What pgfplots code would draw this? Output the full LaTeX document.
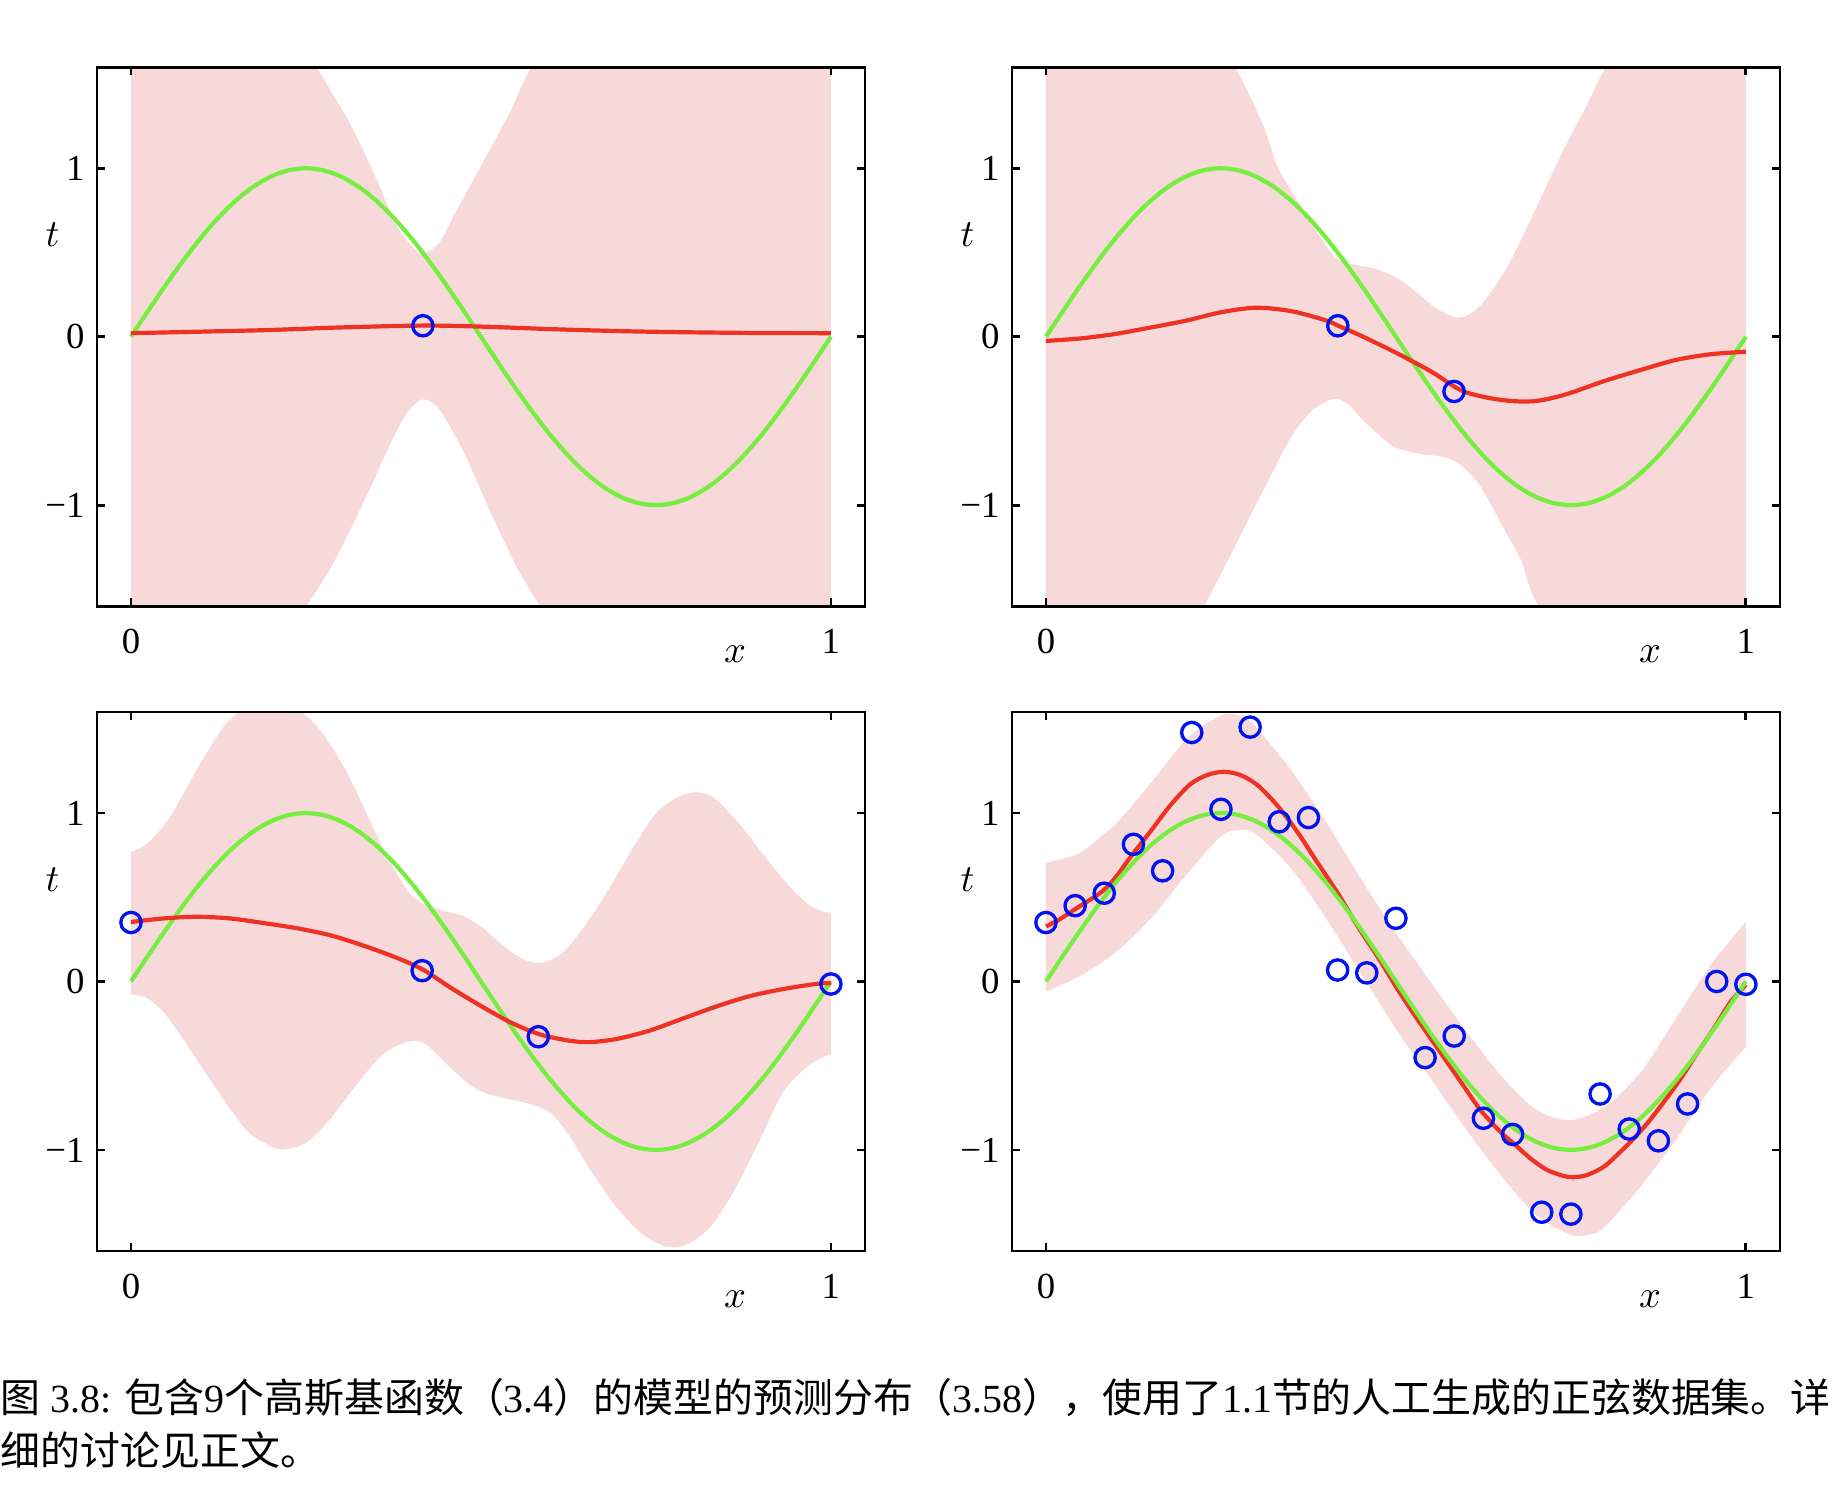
\documentclass[border=0pt]{standalone}
\usepackage{fontspec}
\setmainfont{Liberation Serif}
\newfontfamily\cjk{Noto Sans CJK SC}
\usepackage{pgfplots}
\usepackage{pgfplotstable}
\pgfplotsset{compat=1.18}
\usepgfplotslibrary{fillbetween}
\definecolor{bandpink}{RGB}{247,217,218}
\definecolor{myred}{RGB}{238,50,36}
\definecolor{mygreen}{RGB}{117,238,64}
\definecolor{myblue}{RGB}{0,20,240}

\pgfplotstableread{
x y
0 0
0.025 0.1564
0.05 0.3090
0.075 0.4540
0.1 0.5878
0.125 0.7071
0.15 0.8090
0.175 0.8910
0.2 0.9511
0.225 0.9877
0.25 1
0.275 0.9877
0.3 0.9511
0.325 0.8910
0.35 0.8090
0.375 0.7071
0.4 0.5878
0.425 0.4540
0.45 0.3090
0.475 0.1564
0.5 0
0.525 -0.1564
0.55 -0.3090
0.575 -0.4540
0.6 -0.5878
0.625 -0.7071
0.65 -0.8090
0.675 -0.8910
0.7 -0.9511
0.725 -0.9877
0.75 -1
0.775 -0.9877
0.8 -0.9511
0.825 -0.8910
0.85 -0.8090
0.875 -0.7071
0.9 -0.5878
0.925 -0.4540
0.95 -0.3090
0.975 -0.1564
1 0
}\truth

\pgfplotstableread{
x y
0 0.35
0.0417 0.45
0.0833 0.524
0.125 0.814
0.1667 0.657
0.2083 1.478
0.25 1.022
0.2917 1.51
0.3333 0.948
0.375 0.973
0.4167 0.068
0.4583 0.051
0.5 0.375
0.5417 -0.452
0.5833 -0.324
0.625 -0.812
0.6667 -0.908
0.7083 -1.37
0.75 -1.381
0.7917 -0.668
0.8333 -0.876
0.875 -0.946
0.9167 -0.727
0.9583 0.0
1 -0.017
}\pointsfour

\pgfplotsset{
  panel/.style={
    scale only axis, width=219.4pt, height=154pt,
    xmin=-0.0486, xmax=1.0486, ymin=-1.6, ymax=1.6,
    xtick={0,1}, xticklabels={0,1},
    ytick={-1,0,1}, yticklabels={−1,0,1},
    tick align=inside, major tick length=2.3pt,
    axis on top,
    axis line style={line width=0.8pt},
    tick style={black, line width=0.8pt},
    tick label style={font=\fontsize{10.5}{12}\selectfont},
    xticklabel style={yshift=-3pt},
    xlabel={$x$}, ylabel={$t$},
    every axis x label/.style={at={(axis description cs:0.831,0)}, anchor=center, yshift=-13.7pt, font=\fontsize{10.5}{12}\selectfont},
    every axis y label/.style={at={(axis description cs:0,0.689)}, anchor=center, xshift=-12.7pt, font=\fontsize{10.5}{12}\selectfont},
    anchor=south west,
  },
  env/.style={draw=none, smooth, forget plot},
  truthline/.style={mygreen, line width=1.2pt, smooth},
  meanline/.style={myred, line width=1.2pt, smooth},
  obs/.style={only marks, mark=o, mark size=2.9pt, mark options={myblue, line width=0.95pt}},
}

\begin{document}
\begin{tikzpicture}
\path (0,0) rectangle (525.1pt,430.3pt);

% ---------- panel 1 ----------
\begin{axis}[panel, at={(27.7pt,257.1pt)}]
\addplot[env, name path=U] coordinates {(0,3.0) (0.1,2.6) (0.2,2.05) (0.265,1.6) (0.313,1.264) (0.351,0.933) (0.379,0.664) (0.408,0.508) (0.422,0.502) (0.441,0.56) (0.465,0.747) (0.503,1.037) (0.541,1.327) (0.570,1.586) (0.65,2.15) (0.8,2.8) (1,3.2)};
\addplot[env, name path=L] coordinates {(0,-2.9) (0.1,-2.5) (0.2,-1.95) (0.251,-1.6) (0.289,-1.345) (0.336,-0.951) (0.370,-0.641) (0.394,-0.454) (0.417,-0.372) (0.441,-0.434) (0.475,-0.682) (0.513,-1.035) (0.551,-1.366) (0.584,-1.6) (0.65,-2.05) (0.8,-2.7) (1,-3.1)};
\addplot[bandpink, draw=none] fill between[of=U and L];
\addplot[truthline] table {\truth};
\addplot[meanline] coordinates {(0,0.021) (0.1,0.03) (0.2,0.04) (0.3,0.055) (0.417,0.066) (0.5,0.06) (0.6,0.045) (0.7,0.033) (0.8,0.026) (0.9,0.022) (1,0.021)};
\addplot[obs] coordinates {(0.417,0.065)};
\end{axis}

% ---------- panel 2 ----------
\begin{axis}[panel, at={(289.1pt,257.1pt)}]
\addplot[env, name path=U] coordinates {(0,3.0) (0.1,2.6) (0.2,2.05) (0.27,1.6) (0.31,1.258) (0.332,1.0) (0.365,0.77) (0.394,0.58) (0.42,0.452) (0.474,0.399) (0.511,0.324) (0.555,0.176) (0.588,0.112) (0.613,0.155) (0.635,0.26) (0.664,0.452) (0.701,0.77) (0.737,1.088) (0.774,1.385) (0.80,1.6) (0.9,2.3) (1,2.8)};
\addplot[env, name path=L] coordinates {(0,-3.0) (0.1,-2.5) (0.18,-1.95) (0.226,-1.6) (0.27,-1.245) (0.31,-0.916) (0.35,-0.598) (0.38,-0.439) (0.409,-0.371) (0.43,-0.397) (0.46,-0.524) (0.496,-0.651) (0.533,-0.694) (0.569,-0.715) (0.591,-0.757) (0.62,-0.884) (0.657,-1.16) (0.679,-1.33) (0.704,-1.6) (0.8,-2.2) (0.9,-2.6) (1,-2.9)};
\addplot[bandpink, draw=none] fill between[of=U and L];
\addplot[truthline] table {\truth};
\addplot[meanline] coordinates {(0,-0.025) (0.05,-0.01) (0.1,0.017) (0.15,0.055) (0.2,0.095) (0.25,0.145) (0.3,0.172) (0.35,0.152) (0.4,0.097) (0.417,0.066) (0.45,0.006) (0.5,-0.095) (0.55,-0.206) (0.583,-0.295) (0.6,-0.33) (0.625,-0.357) (0.65,-0.375) (0.675,-0.384) (0.7,-0.382) (0.725,-0.362) (0.75,-0.333) (0.8,-0.26) (0.85,-0.197) (0.9,-0.138) (0.95,-0.104) (1,-0.089)};
\addplot[obs] coordinates {(0.417,0.065) (0.583,-0.325)};
\end{axis}

% ---------- panel 3 ----------
\begin{axis}[panel, at={(27.7pt,72.9pt)}]
\addplot[env, name path=U] coordinates {(0,0.771) (0.013,0.791) (0.032,0.853) (0.056,0.977) (0.084,1.184) (0.113,1.39) (0.142,1.556) (0.2,1.72) (0.256,1.556) (0.284,1.411) (0.313,1.205) (0.341,0.957) (0.365,0.75) (0.394,0.543) (0.418,0.461) (0.446,0.419) (0.475,0.388) (0.503,0.316) (0.532,0.213) (0.561,0.13) (0.589,0.112) (0.617,0.171) (0.646,0.316) (0.679,0.523) (0.717,0.791) (0.75,0.998) (0.784,1.101) (0.812,1.122) (0.836,1.08) (0.869,0.936) (0.908,0.729) (0.941,0.564) (0.97,0.45) (0.989,0.415) (1,0.409)};
\addplot[env, name path=L] coordinates {(0,-0.076) (0.022,-0.097) (0.046,-0.18) (0.075,-0.345) (0.108,-0.552) (0.142,-0.758) (0.17,-0.903) (0.204,-0.986) (0.222,-0.996) (0.251,-0.955) (0.284,-0.82) (0.322,-0.614) (0.361,-0.428) (0.399,-0.355) (0.422,-0.376) (0.451,-0.49) (0.484,-0.614) (0.508,-0.665) (0.537,-0.696) (0.57,-0.727) (0.599,-0.779) (0.624,-0.903) (0.655,-1.11) (0.693,-1.337) (0.731,-1.502) (0.765,-1.574) (0.793,-1.564) (0.827,-1.461) (0.86,-1.254) (0.898,-0.944) (0.932,-0.655) (0.965,-0.51) (0.989,-0.448) (1,-0.438)};
\addplot[bandpink, draw=none] fill between[of=U and L];
\addplot[truthline] table {\truth};
\addplot[meanline] coordinates {(0,0.353) (0.046,0.374) (0.094,0.384) (0.142,0.374) (0.189,0.347) (0.237,0.316) (0.284,0.275) (0.332,0.213) (0.38,0.14) (0.418,0.068) (0.456,-0.035) (0.499,-0.143) (0.542,-0.242) (0.584,-0.314) (0.627,-0.352) (0.656,-0.36) (0.693,-0.342) (0.74,-0.293) (0.788,-0.221) (0.836,-0.149) (0.884,-0.087) (0.932,-0.045) (0.98,-0.014) (1,-0.01)};
\addplot[obs] coordinates {(0,0.35) (0.416,0.064) (0.582,-0.328) (1,-0.015)};
\end{axis}

% ---------- panel 4 ----------
\begin{axis}[panel, at={(289.1pt,72.9pt)}]
\addplot[env, name path=U] coordinates {(0,0.704) (0.03,0.736) (0.05,0.768) (0.1,0.937) (0.15,1.18) (0.2,1.435) (0.25,1.58) (0.28,1.574) (0.3,1.51) (0.35,1.256) (0.4,0.947) (0.45,0.609) (0.5,0.29) (0.55,-0.006) (0.6,-0.293) (0.65,-0.558) (0.7,-0.76) (0.75,-0.823) (0.8,-0.738) (0.85,-0.537) (0.9,-0.22) (0.95,0.1) (1,0.354)};
\addplot[env, name path=L] coordinates {(0,-0.06) (0.05,0.036) (0.1,0.174) (0.15,0.375) (0.2,0.63) (0.25,0.863) (0.28,0.9) (0.3,0.874) (0.35,0.672) (0.4,0.375) (0.45,0.047) (0.5,-0.282) (0.55,-0.579) (0.6,-0.876) (0.65,-1.152) (0.7,-1.385) (0.75,-1.505) (0.78,-1.50) (0.8,-1.45) (0.85,-1.215) (0.9,-0.94) (0.95,-0.632) (1,-0.388)};
\addplot[bandpink, draw=none] fill between[of=U and L];
\addplot[meanline] coordinates {(0,0.326) (0.02,0.37) (0.042,0.43) (0.063,0.485) (0.082,0.54) (0.1,0.62) (0.121,0.74) (0.149,0.889) (0.178,1.047) (0.206,1.17) (0.23,1.225) (0.254,1.245) (0.278,1.225) (0.302,1.166) (0.33,1.047) (0.359,0.889) (0.387,0.711) (0.416,0.53) (0.445,0.33) (0.475,0.14) (0.5,-0.03) (0.525,-0.19) (0.55,-0.34) (0.575,-0.49) (0.6,-0.64) (0.621,-0.765) (0.649,-0.892) (0.668,-0.961) (0.692,-1.05) (0.716,-1.119) (0.74,-1.155) (0.754,-1.162) (0.773,-1.149) (0.797,-1.1) (0.821,-1.01) (0.84,-0.931) (0.859,-0.843) (0.883,-0.714) (0.907,-0.576) (0.93,-0.428) (0.954,-0.28) (0.978,-0.122) (1,-0.02)};
\addplot[truthline] table {\truth};
\addplot[obs] table {\pointsfour};
\end{axis}

% ---------- caption ----------
\node[anchor=west, inner sep=0pt, font=\fontsize{11.4}{14}\selectfont] at (0pt,30.9pt)
  {{\cjk 图} 3.8: {\cjk 包含}9{\cjk 个高斯基函数（}3.4{\cjk ）的模型的预测分布（}3.58{\cjk ），使用了}1.1{\cjk 节的人工生成的正弦数据集。详}};
\node[anchor=west, inner sep=0pt, font=\fontsize{11.4}{14}\selectfont] at (0pt,16pt)
  {{\cjk 细的讨论见正文。}};
\end{tikzpicture}
\end{document}
